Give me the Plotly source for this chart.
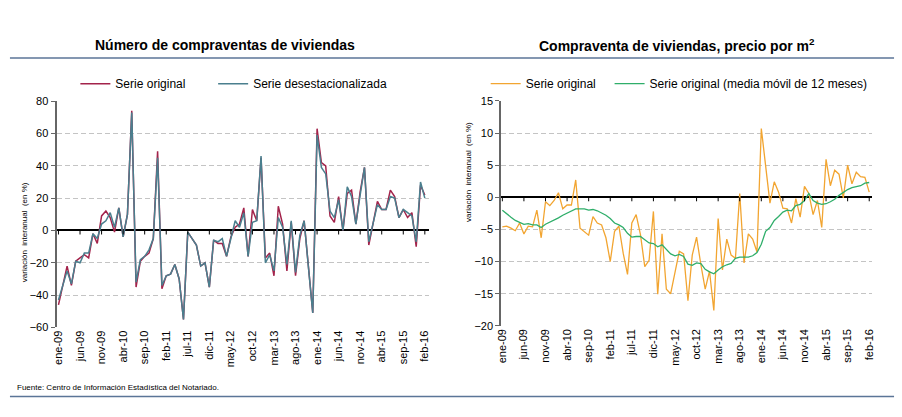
import plotly.graph_objects as go

# ---------------- data ----------------
mes = ["ene", "feb", "mar", "abr", "may", "jun", "jul", "ago", "sep", "oct", "nov", "dic"]
months = [f"{m}-{y:02d}" for y in range(9, 17) for m in mes][:86]  # ene-09 .. feb-16

compraventas_original = [
    -46, -34, -22, -34, -19, -17, -15, -17, -2, -8,
    9, 12, 8, -1, 14, -4, 10, 74, -35, -19,
    -16, -14, -5, 49, -36, -28, -27, -21, -30, -55,
    -1, -5, -9, -22, -20, -35, -6, -8, -8, -16,
    -4, 2, 4, 14, -16, 13, 6, 45, -17, -14,
    -28, 15, 4, -25, 5, -28, -5, 6, -23, -51,
    63, 42, 40, 9, 5, 21, 0, 23, 25, 4,
    24, 39, -9, 4, 18, 13, 13, 25, 21, 8,
    13, 8, 11, -10, 28, 22]

compraventas_desest = [
    -43, -34, -25, -33, -19, -20, -14, -14, -2, -5,
    4, 6, 11, 2, 14, -4, 10, 73, -32, -18,
    -16, -12, -5, 45, -34, -28, -27, -21, -30, -55,
    -1, -5, -9, -22, -20, -35, -6, -7, -5, -16,
    -4, 6, 2, 11, -16, 5, 6, 46, -20, -15,
    -25, 8, 2, -21, 6, -26, -3, 6, -23, -51,
    59, 39, 35, 12, 8, 19, 0, 27, 21, 4,
    22, 39, -7, 4, 16, 13, 13, 21, 20, 8,
    13, 11, 9, -7, 30, 20]

precio_original = [
    -4.6, -4.5, -4.8, -5.2, -4.0, -5.7, -4.5, -4.6, -2.0, -6.3,
    -0.7, -1.3, -0.5, 0.7, -1.8, -1.2, -1.2, 2.7, -4.8, -5.4,
    -5.9, -3.0, -4.0, -4.3, -6.3, -10.0, -5.3, -4.5, -8.7, -12.0,
    -4.0, -2.7, -5.8, -10.8, -9.8, -2.2, -15.1, -5.7, -14.3, -15.0,
    -11.8, -8.4, -8.8, -16.1, -9.0, -6.2, -10.5, -14.3, -11.5, -17.6,
    -3.3, -11.3, -6.5, -9.0, -9.5, 0.6, -10.2, -5.7, -6.5, -8.5,
    10.7, 4.5, -0.9, 2.4, 0.8, -1.7, -1.8, -4.0, -0.2, -3.1,
    1.7, 0.6, -2.7, -0.5, -4.7, 5.9, 1.8, 4.2, 3.6, -0.1,
    5.0, 2.1, 3.9, 3.2, 3.1, 0.8]

precio_media_movil = [
    -2.0, -2.6, -3.1, -3.6, -3.9, -4.2, -4.1, -4.3, -4.3, -4.7,
    -4.2, -3.9, -3.5, -3.2, -2.8, -2.5, -2.2, -1.8, -1.8, -1.8,
    -2.0, -1.9, -2.1, -2.4, -2.8, -3.3, -4.0, -4.3, -4.7, -5.6,
    -6.2, -6.1, -6.1, -6.6, -7.1, -7.2, -7.7, -7.4, -8.1, -8.8,
    -9.1, -8.9, -9.2, -10.4, -10.6, -10.2, -10.3, -11.2, -11.6, -11.9,
    -11.3, -10.8, -10.5, -10.3, -9.5, -9.3, -9.3, -9.3, -9.1, -8.6,
    -7.3, -5.3, -4.7, -3.6, -3.0, -2.3, -2.0, -2.1, -1.3, -1.1,
    -0.5, 0.6, -0.5, -0.9, -1.1, -1.0, -0.7, -0.3, 0.3, 0.8,
    1.2, 1.5, 1.6, 1.8, 2.2, 2.3]

tick_labels = months[::5]

# ---------------- figure ----------------
W, H = 902, 417
FONT = "Arial, Liberation Sans, sans-serif"

def px_x(p):
    return p / W

def px_y(p):
    return 1 - p / H

fig = go.Figure()

series = [
    (compraventas_original, "Serie original", "#a3234b", 1.5, "x", "y", "legend"),
    (compraventas_desest, "Serie desestacionalizada", "#4a7f8e", 1.5, "x", "y", "legend2"),
    (precio_original, "Serie original", "#f2a531", 1.3, "x2", "y2", "legend3"),
    (precio_media_movil, "Serie original (media móvil de 12 meses)", "#2fae6a", 1.3, "x2", "y2", "legend4"),
]
for vals, name, col, w, xa, ya, lg in series:
    fig.add_trace(go.Scatter(x=months, y=vals, name=name, mode="lines",
                             line=dict(color=col, width=w),
                             xaxis=xa, yaxis=ya, legend=lg))

xcommon = dict(type="category", categoryorder="array", categoryarray=months,
               tickmode="array", tickvals=tick_labels, ticktext=tick_labels,
               tickangle=-90, showgrid=False, showline=False, ticks="",
               zeroline=False, tickfont=dict(family=FONT, size=11, color="#000"))
ycommon = dict(showline=True, linecolor="#666666", linewidth=2, ticks="outside",
               ticklen=4, tickcolor="#666666", tickwidth=1,
               showgrid=True, gridcolor="#c4c4c4", griddash="5px,3px", gridwidth=1,
               zeroline=True, zerolinecolor="#000", zerolinewidth=1.5,
               tickfont=dict(family=FONT, size=11, color="#000"))

def leg(xline):
    return dict(orientation="h", x=px_x(xline - 17), y=px_y(80), xanchor="left",
                yanchor="middle", font=dict(family=FONT, size=12),
                bgcolor="rgba(0,0,0,0)")

fig.update_layout(
    width=W, height=H, autosize=False,
    margin=dict(l=0, r=0, t=0, b=0),
    paper_bgcolor="white", plot_bgcolor="white",
    font=dict(family=FONT, color="#000"),
    xaxis=dict(domain=[px_x(52), px_x(427.5)], range=[-0.45, 85.9],
               anchor="y", **xcommon),
    yaxis=dict(domain=[px_y(331), px_y(98)], range=[-60, 80], dtick=20,
               anchor="x", **ycommon),
    xaxis2=dict(domain=[px_x(500.7), px_x(875)], range=[-0.25, 85.7],
                anchor="y2", **xcommon),
    yaxis2=dict(domain=[px_y(329.3), px_y(97.7)], range=[-20, 15], dtick=5,
                anchor="x2", **ycommon),
    legend=leg(88), legend2=leg(227), legend3=leg(502), legend4=leg(627),
    showlegend=True,
)

shapes = []
# small tick marks below the zero line
for xa, ya in (("x", "y"), ("x2", "y2")):
    for t in tick_labels:
        shapes.append(dict(type="line", xref=xa, yref=ya, x0=t, x1=t,
                           ysizemode="pixel", yanchor=0, y0=0, y1=-4,
                           line=dict(color="#000", width=1)))
# separator rules
for yy in (53.5, 402):
    shapes.append(dict(type="line", xref="paper", yref="paper",
                       x0=px_x(5), x1=px_x(897), y0=px_y(yy), y1=px_y(yy),
                       line=dict(color="#5b7597", width=1.5)))
fig.update_layout(shapes=shapes)

ann = [
    dict(text="<b>Número de compraventas de viviendas</b>", x=px_x(221.5), y=px_y(40),
         xref="paper", yref="paper", showarrow=False, xanchor="center", yanchor="middle",
         font=dict(family=FONT, size=14, color="#000")),
    dict(text="<b>Compraventa de viviendas, precio por m<sup>2</sup></b>", x=px_x(678), y=px_y(40),
         xref="paper", yref="paper", showarrow=False, xanchor="center", yanchor="middle",
         font=dict(family=FONT, size=14, color="#000")),
    dict(text="variación  interanual  (en %)", x=px_x(19), y=px_y(233),
         xref="paper", yref="paper", showarrow=False, textangle=-90,
         xanchor="center", yanchor="middle", font=dict(family=FONT, size=8, color="#000")),
    dict(text="variación  interanual  (en %)", x=px_x(467), y=px_y(171),
         xref="paper", yref="paper", showarrow=False, textangle=-90,
         xanchor="center", yanchor="middle", font=dict(family=FONT, size=8, color="#000")),
    dict(text="Fuente: Centro de Información Estadística del Notariado.", x=px_x(10), y=px_y(393),
         xref="paper", yref="paper", showarrow=False, xanchor="left", yanchor="middle",
         font=dict(family=FONT, size=8, color="#000")),
]
fig.update_layout(annotations=ann)

fig.write_html("out.html", config={"displayModeBar": False},
               post_script="document.body.style.margin='0';document.body.style.padding='0';"
                           "document.body.style.overflow='hidden';")
